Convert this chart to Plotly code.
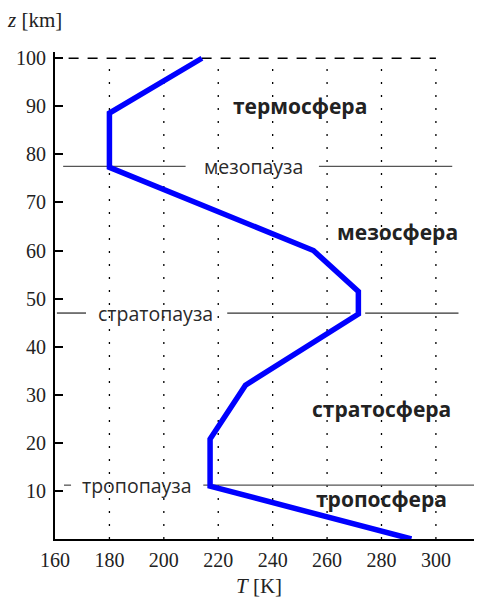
import plotly.graph_objects as go

# Temperature profile of the atmosphere
T_K = [291, 217, 217, 230, 271.5, 271.5, 255, 180, 180, 214]
Z_KM = [0, 11, 20.8, 32, 46.8, 51.5, 60, 77.3, 88.6, 100]

X_TICKS = [160, 180, 200, 220, 240, 260, 280, 300]
Y_TICKS = [10, 20, 30, 40, 50, 60, 70, 80, 90, 100]
GRID_T = [180, 200, 220, 240, 260, 280, 300]

# layer names (bold) and their positions (T, z)
LAYER_NAMES = ["термосфера", "мезосфера", "стратосфера", "тропосфера"]
LAYER_T = [250, 286, 280, 280]
LAYER_Z = [90, 63.8, 27, 8.3]

# pauses: name, altitude, label position, line segments
PAUSE_NAMES = ["мезопауза", "стратопауза", "тропопауза"]
PAUSE_Z = [77.5, 47, 11.2]
PAUSE_LABEL_T = [233, 197, 190]
PAUSE_SEGMENTS = [
    [(163, 208), (257, 306)],
    [(160.7, 171.4), (223.3, 268.6), (274, 308.3)],
    [(163.3, 165.9), (214.5, 316)],
]
PAUSE_COLORS = ["#555555", "#333333", "#555555"]

TOP_LINE_Z = 100
TOP_LINE_T = [165, 300]

fig = go.Figure()

# dotted vertical grid lines
for t in GRID_T:
    fig.add_trace(go.Scatter(x=[t, t], y=[0, 99], mode="lines",
                             line=dict(color="black", width=1.3, dash="2px,11px"),
                             hoverinfo="skip", showlegend=False))

# dashed top line
fig.add_trace(go.Scatter(x=TOP_LINE_T, y=[TOP_LINE_Z, TOP_LINE_Z], mode="lines",
                         line=dict(color="black", width=1.3, dash="10px,9px"),
                         hoverinfo="skip", showlegend=False))

# pause lines
for z, segs, col in zip(PAUSE_Z, PAUSE_SEGMENTS, PAUSE_COLORS):
    for a, b in segs:
        fig.add_trace(go.Scatter(x=[a, b], y=[z, z], mode="lines",
                                 line=dict(color=col, width=1.3),
                                 hoverinfo="skip", showlegend=False))

# profile curve
fig.add_trace(go.Scatter(x=T_K, y=Z_KM, mode="lines",
                         line=dict(color="#0000ff", width=5.5),
                         hoverinfo="skip", showlegend=False))

# layer labels
for name, t, z in zip(LAYER_NAMES, LAYER_T, LAYER_Z):
    fig.add_annotation(x=t, y=z, text="<b>" + name + "</b>", showarrow=False,
                       font=dict(family="Open Sans", size=21, color="#222222"),
                       xanchor="center", yanchor="middle")

# pause labels
for name, t, z in zip(PAUSE_NAMES, PAUSE_LABEL_T, PAUSE_Z):
    fig.add_annotation(x=t, y=z, text=name, showarrow=False,
                       font=dict(family="Open Sans", size=19.5, color="#2a2a2a"),
                       xanchor="center", yanchor="middle")

# axis titles
fig.add_annotation(xref="paper", yref="paper", x=-0.12, y=1.0, yshift=32,
                   text="<i>z</i> [km]", showarrow=False, xanchor="left", yanchor="middle",
                   font=dict(family="Liberation Serif", size=21, color="#222222"))
fig.add_annotation(xref="x", yref="paper", x=235, y=0, yshift=-47,
                   text="<i>T</i> [K]", showarrow=False, xanchor="center", yanchor="middle",
                   font=dict(family="Liberation Serif", size=21, color="#222222"))

fig.update_layout(
    width=479, height=599,
    margin=dict(l=55, r=5, t=52, b=60),
    paper_bgcolor="white", plot_bgcolor="white",
    showlegend=False,
)
fig.update_xaxes(range=[160, 314], tickvals=X_TICKS, showgrid=False, zeroline=False,
                 showline=True, linecolor="black", linewidth=2, ticks="",
                 tickfont=dict(family="Liberation Serif", size=20, color="#222222"),
                 ticklabelstandoff=2)
fig.update_yaxes(range=[0, 101.3], tickvals=Y_TICKS, showgrid=False, zeroline=False,
                 showline=True, linecolor="black", linewidth=2, ticks="inside",
                 ticklen=8, tickwidth=1.5, tickcolor="black",
                 tickfont=dict(family="Liberation Serif", size=20, color="#222222"),
                 ticklabelstandoff=3)

fig.write_html("out.html", post_script="document.body.style.margin='0px';",
               config={"displayModeBar": False})
